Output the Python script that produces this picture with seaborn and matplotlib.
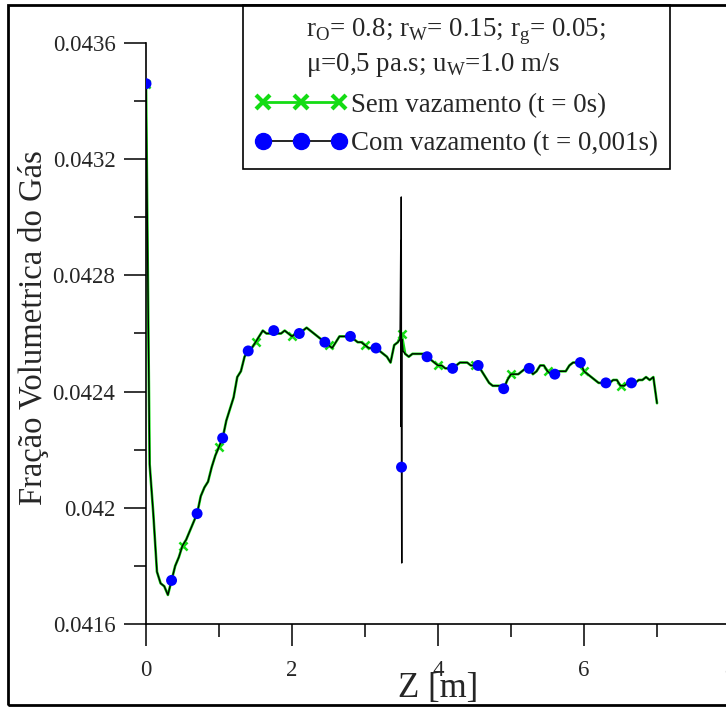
import numpy as np
import pandas as pd
import matplotlib
matplotlib.use("Agg")
import matplotlib.pyplot as plt
from matplotlib.lines import Line2D
from matplotlib.patches import Rectangle
from matplotlib.ticker import MultipleLocator, FuncFormatter
import seaborn as sns

# posições ao longo do duto (passo de 0,05 m)
z = np.round(np.arange(0, 141) * 0.05, 2)

# fração volumétrica do gás - sem vazamento
y_sem = [
    0.04346, 0.04215, 0.04198, 0.04178, 0.04174, 0.04173, 0.04170, 0.04175, 0.04180, 0.04183,
    0.04187, 0.04189, 0.04192, 0.04195, 0.04198, 0.04204, 0.04207, 0.04209, 0.04214, 0.04218,
    0.04221, 0.04224, 0.04230, 0.04234, 0.04238, 0.04245, 0.04247, 0.04252, 0.04254, 0.04255,
    0.04257, 0.04259, 0.04261, 0.04260, 0.04260, 0.04261, 0.04260, 0.04260, 0.04261, 0.04260,
    0.04259, 0.04260, 0.04260, 0.04261, 0.04262, 0.04261, 0.04260, 0.04259, 0.04258, 0.04257,
    0.04256, 0.04255, 0.04257, 0.04259, 0.04259, 0.04259, 0.04259, 0.04258, 0.04257, 0.04257,
    0.04256, 0.04255, 0.04255, 0.04255, 0.04254, 0.04253, 0.04252, 0.04250, 0.04256, 0.04257,
    0.04260, 0.04253, 0.04252, 0.04253, 0.04253, 0.04253, 0.04253, 0.04252, 0.04251, 0.04250,
    0.04249, 0.04249, 0.04248, 0.04248, 0.04248, 0.04249, 0.04250, 0.04250, 0.04250, 0.04249,
    0.04249, 0.04249, 0.04247, 0.04245, 0.04243, 0.04242, 0.04242, 0.04242, 0.04241, 0.04244,
    0.04246, 0.04246, 0.04246, 0.04247, 0.04248, 0.04248, 0.04246, 0.04247, 0.04249, 0.04249,
    0.04247, 0.04246, 0.04246, 0.04247, 0.04247, 0.04247, 0.04249, 0.04250, 0.04250, 0.04250,
    0.04247, 0.04246, 0.04245, 0.04244, 0.04243, 0.04243, 0.04243, 0.04243, 0.04244, 0.04244,
    0.04242, 0.04242, 0.04243, 0.04243, 0.04243, 0.04244, 0.04244, 0.04245, 0.04244, 0.04245,
    0.04236,
]

# trecho do vazamento em z = 3,5 m (com vazamento)
z_vaz = [3.48, 3.49, 3.493, 3.497, 3.50, 3.503, 3.507, 3.52]
y_vaz = [0.04258, 0.04292, 0.04228, 0.04307, 0.04214, 0.04181, 0.04258, 0.04254]

titulo = ("r$_\\mathregular{O}$= 0.8; r$_\\mathregular{W}$= 0.15; r$_\\mathregular{g}$= 0.05;\n"
          "μ=0,5 pa.s; u$_\\mathregular{W}$=1.0 m/s")
rotulos = ["Sem vazamento (t = 0s)", "Com vazamento (t = 0,001s)"]

verde = "#14dc14"

sns.set_style("ticks")
plt.rcParams["font.family"] = ["Liberation Serif", "DejaVu Serif"]
plt.rcParams["mathtext.fontset"] = "custom"
plt.rcParams["mathtext.rm"] = "Liberation Serif"

df_sem = pd.DataFrame({"Z": z, "Fracao": y_sem})
df_com = pd.concat([
    df_sem[~df_sem["Z"].between(3.46, 3.54)],
    pd.DataFrame({"Z": z_vaz, "Fracao": y_vaz}),
]).sort_values("Z").reset_index(drop=True)

# pontos com marcador
q = df_com["Z"] / 0.35
marc_com = df_com[np.isclose(q, np.round(q)) & (df_com["Z"] < 6.8)]
q = df_sem["Z"] / 0.5
marc_sem = df_sem[np.isclose(q, np.round(q)) & (df_sem["Z"] < 6.8)]

fig = plt.figure(figsize=(7.26, 7.08), dpi=100)
ax = fig.add_axes([146/726, 84/708, 584/726, 581/708])

sns.lineplot(data=df_sem, x="Z", y="Fracao", ax=ax, color=verde, lw=1.9,
             sort=False, estimator=None, zorder=2)
sns.scatterplot(data=marc_sem, x="Z", y="Fracao", ax=ax, marker="x", color=verde,
                s=34, linewidth=1.8, zorder=3)
sns.lineplot(data=df_com, x="Z", y="Fracao", ax=ax, color="black", lw=1.0,
             sort=False, estimator=None, zorder=4)
sns.scatterplot(data=marc_com, x="Z", y="Fracao", ax=ax, color="blue", s=62,
                edgecolor="none", zorder=5)

ax.set_xlim(0, 8)
ax.set_ylim(0.0416, 0.0436)
ax.xaxis.set_major_locator(MultipleLocator(2))
ax.xaxis.set_minor_locator(MultipleLocator(1))
ax.yaxis.set_major_locator(MultipleLocator(0.0004))
ax.yaxis.set_minor_locator(MultipleLocator(0.0002))
ax.yaxis.set_major_formatter(FuncFormatter(lambda v, p: f"{v:.4f}".rstrip("0")))

sns.despine(ax=ax)
for s in ["left", "bottom"]:
    ax.spines[s].set_linewidth(1.2)
    ax.spines[s].set_color("black")

ax.tick_params(which="major", length=16, width=1.1, direction="out", labelsize=16.5, color="black")
ax.tick_params(which="minor", length=9, width=1.1, direction="out", color="black")
ax.tick_params(axis="y", which="major", pad=6)
ax.tick_params(axis="x", which="major", pad=10)

ax.set_xlabel("Z [m]", fontsize=25)
ax.xaxis.set_label_coords(0.5, -0.083)
ax.set_ylabel("Fração Volumetrica do Gás", fontsize=23.5)
ax.yaxis.set_label_coords(-0.166, 0.51)

h_sem = Line2D([], [], color=verde, lw=2, marker="x", ms=10, mew=3)
h_com = Line2D([], [], color="black", lw=1.2, marker="o", ms=11.5, mfc="blue", mec="blue")
leg = ax.legend([h_sem, h_com], rotulos, title=titulo, loc="upper left",
                bbox_to_anchor=(243/726, 703/708), bbox_transform=fig.transFigure,
                numpoints=3, handlelength=3.4, handletextpad=0.15, borderpad=0.45,
                labelspacing=0.5, fontsize=19.4, title_fontsize=19.4, fancybox=False,
                framealpha=1, edgecolor="black", borderaxespad=0)
leg.get_frame().set_linewidth(1.2)

# moldura da figura
fig.add_artist(Rectangle((8/726, 3/708), 1.0, 700/708, transform=fig.transFigure,
                         fill=False, ec="black", lw=2))

fig.savefig("out.png", dpi=100)
